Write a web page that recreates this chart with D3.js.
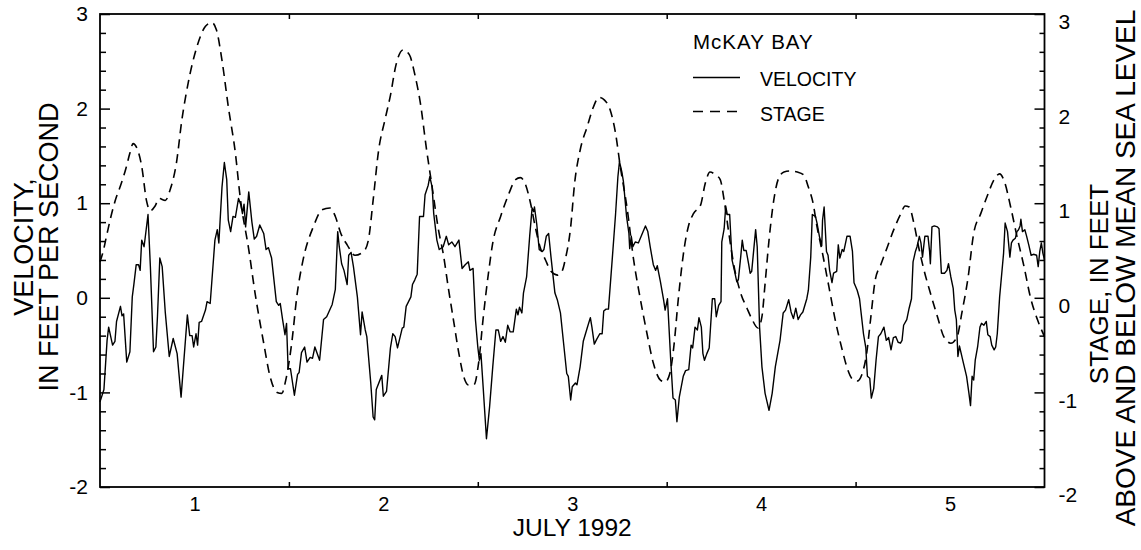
<!DOCTYPE html>
<html>
<head>
<meta charset="utf-8">
<script src="https://cdn.jsdelivr.net/npm/d3@7"></script>
<style>
  body { margin: 0; background: #fff; }
  svg text { font-family: "Liberation Sans", Arial, Helvetica, sans-serif; fill: #000; }
</style>
</head>
<body>
<svg id="chart" width="1141" height="550"></svg>
<script>
// Hours after 00:00 July 1, 1992, and tidal velocity in feet per second.
const velocityReadings = [
  [0,-1.10],[0.5,-0.97],[0.9,-0.45],[1.1,-0.31],[1.6,-0.50],[1.9,-0.46],[2.1,-0.25],[2.6,-0.09],[2.8,-0.19],[3.0,-0.17],
  [3.4,-0.68],[3.8,-0.57],[4.1,0.01],[4.3,0.14],[4.6,0.35],[4.9,0.35],[5.1,0.29],[5.3,0.61],[5.6,0.54],[6.1,0.88],
  [6.4,0.33],[6.8,-0.57],[7.1,-0.52],[7.3,-0.20],[7.6,0.42],[7.9,0.33],[8.3,-0.16],[8.8,-0.62],[9.3,-0.43],[9.8,-0.59],
  [10.3,-1.05],[11.1,-0.18],[11.4,-0.40],[11.7,-0.40],[11.9,-0.52],[12.2,-0.38],[12.4,-0.50],[12.6,-0.26],[12.9,-0.25],[13.4,-0.13],
  [13.6,-0.04],[14.0,-0.06],[14.6,0.61],[14.9,0.72],[15.1,0.58],[15.5,1.17],[15.8,1.43],[16.1,1.25],[16.3,0.82],[16.6,0.70],
  [16.9,0.86],[17.2,0.85],[17.6,1.05],[17.9,0.98],[18.1,0.89],[18.3,0.99],[18.5,0.75],[18.9,1.12],[19.3,0.80],[19.6,0.62],
  [19.9,0.65],[20.3,0.77],[20.8,0.68],[21.1,0.51],[21.4,0.53],[21.8,0.42],[22.4,-0.04],[22.7,-0.08],[22.9,-0.06],[23.2,-0.23],
  [23.5,-0.39],[23.7,-0.27],[23.9,-0.75],[24.2,-0.75],[24.7,-1.03],[25.1,-0.81],[25.3,-0.79],[25.6,-0.58],[26.0,-0.52],[26.3,-0.68],
  [26.7,-0.63],[27.0,-0.64],[27.3,-0.52],[27.9,-0.66],[28.4,-0.23],[28.8,-0.20],[29.5,-0.07],[29.9,0.09],[30.2,0.70],[30.4,0.54],
  [30.7,0.36],[31.0,0.29],[31.4,0.14],[31.6,0.45],[31.9,0.48],[32.2,0.33],[32.7,0.01],[33.1,-0.39],[33.3,-0.15],[33.7,-0.34],
  [33.9,-0.41],[34.4,-0.90],[34.7,-1.26],[34.9,-1.29],[35.1,-0.97],[35.8,-0.82],[36.0,-1.04],[36.4,-0.99],[36.9,-0.53],[37.2,-0.38],
  [37.5,-0.41],[37.8,-0.53],[38.4,-0.32],[38.6,-0.31],[38.9,-0.09],[39.2,-0.04],[39.5,0.01],[39.7,0.14],[40.0,0.19],[40.3,0.25],
  [40.6,0.86],[41.1,0.86],[41.3,1.09],[41.7,1.19],[41.9,1.28],[42.2,1.17],[42.4,0.89],[42.8,0.61],[43.1,0.51],[43.6,0.54],
  [44.0,0.65],[44.3,0.56],[44.7,0.59],[45.1,0.54],[45.6,0.61],[46.0,0.31],[46.4,0.35],[46.8,0.38],[47.0,0.29],[47.4,0.31],
  [47.7,-0.23],[48.0,-0.52],[48.2,-0.66],[48.4,-0.59],[48.7,-0.97],[49.1,-1.49],[49.5,-1.15],[49.9,-0.73],[50.3,-0.34],[50.6,-0.34],
  [50.9,-0.46],[51.2,-0.41],[51.5,-0.47],[51.8,-0.29],[52.1,-0.36],[52.5,-0.36],[52.9,-0.12],[53.1,-0.18],[53.3,-0.10],[53.6,-0.16],
  [53.8,0.05],[54.2,0.22],[54.6,0.66],[54.9,0.95],[55.1,0.91],[55.2,0.96],[55.5,0.77],[55.8,0.51],[56.2,0.49],[56.4,0.51],
  [56.7,0.65],[57.0,0.68],[57.3,0.43],[57.8,0.05],[58.1,-0.02],[58.5,-0.16],[58.9,-0.48],[59.3,-0.80],[59.5,-0.83],[59.8,-1.08],
  [60.0,-0.94],[60.4,-0.90],[60.6,-0.92],[61.0,-0.73],[61.4,-0.46],[61.9,-0.32],[62.3,-0.21],[62.5,-0.31],[62.8,-0.49],[63.1,-0.44],
  [63.5,-0.38],[63.8,-0.38],[64.0,-0.14],[64.3,-0.12],[64.6,-0.12],[65.1,0.43],[65.5,0.88],[65.8,1.28],[66.0,1.44],[66.3,1.33],
  [66.5,1.23],[66.9,0.86],[67.2,0.68],[67.3,0.52],[67.5,0.65],[67.7,0.54],[68.0,0.59],[68.4,0.58],[68.9,0.68],[69.3,0.76],
  [69.6,0.70],[69.9,0.54],[70.3,0.35],[70.6,0.29],[70.8,0.34],[71.2,0.17],[71.6,-0.02],[71.8,-0.13],[72.1,-0.01],[72.5,-0.64],
  [72.8,-1.06],[73.1,-1.08],[73.3,-1.31],[73.6,-1.05],[74.1,-0.83],[74.4,-0.77],[74.8,-0.76],[75.1,-0.50],[75.3,-0.53],[75.6,-0.31],
  [75.9,-0.34],[76.1,-0.21],[76.4,-0.31],[76.6,-0.59],[76.8,-0.66],[77.1,-0.59],[77.4,-0.53],[77.8,-0.01],[78.1,-0.01],[78.3,-0.20],
  [78.6,-0.08],[78.9,-0.04],[79.0,0.59],[79.3,0.73],[79.5,0.97],[79.7,0.88],[80.0,0.88],[80.3,0.40],[80.6,0.29],[80.9,0.17],
  [81.1,0.19],[81.4,0.43],[81.6,0.61],[81.8,0.50],[82.1,0.50],[82.4,0.36],[82.6,0.26],[82.8,0.28],[83.3,0.72],[83.5,0.54],
  [83.8,-0.31],[84.1,-0.73],[84.5,-1.01],[85.0,-1.19],[85.4,-1.01],[85.8,-0.73],[86.4,-0.45],[86.8,-0.16],[87.1,-0.13],[87.5,-0.02],
  [87.8,-0.15],[88.1,-0.22],[88.4,-0.11],[88.7,-0.23],[89.0,-0.18],[89.3,-0.15],[89.8,-0.01],[90.0,0.08],[90.3,0.43],[90.5,0.88],
  [90.9,0.86],[91.1,0.79],[91.4,0.65],[91.7,0.55],[91.8,0.82],[92.0,0.96],[92.3,0.49],[92.5,0.45],[92.7,0.29],[93.0,0.16],
  [93.2,0.26],[93.6,0.28],[93.8,0.56],[94.0,0.42],[94.3,0.51],[94.5,0.49],[94.7,0.57],[94.9,0.65],[95.3,0.65],[95.6,0.49],
  [95.8,0.16],[96.2,0.08],[96.5,-0.01],[96.7,-0.16],[97.0,-0.38],[97.3,-0.53],[97.5,-0.83],[97.8,-0.85],[98.0,-1.06],[98.3,-0.96],
  [98.6,-0.66],[98.9,-0.41],[99.2,-0.38],[99.6,-0.31],[99.9,-0.45],[100.2,-0.42],[100.5,-0.55],[100.8,-0.42],[101.1,-0.41],[101.4,-0.47],
  [101.7,-0.48],[101.9,-0.45],[102.1,-0.29],[102.5,-0.23],[102.8,-0.11],[103.1,-0.01],[103.3,0.38],[103.6,0.49],[103.8,0.54],[104.1,0.65],
  [104.3,0.58],[104.5,0.43],[104.8,0.65],[105.0,0.65],[105.2,0.65],[105.4,0.49],[105.5,0.36],[105.7,0.75],[106.0,0.76],[106.4,0.75],
  [106.6,0.73],[106.9,0.26],[107.3,0.26],[107.6,0.29],[107.8,0.36],[108.1,0.22],[108.4,0.10],[108.6,-0.13],[108.8,-0.23],[109.0,-0.62],
  [109.2,-0.51],[109.5,-0.62],[109.7,-0.69],[110.1,-0.83],[110.4,-1.01],[110.6,-1.14],[110.8,-0.83],[111.0,-0.87],[111.2,-0.66],[111.5,-0.52],
  [111.8,-0.31],[112.0,-0.27],[112.3,-0.29],[112.6,-0.25],[112.8,-0.39],[113.1,-0.41],[113.3,-0.50],[113.6,-0.55],[113.8,-0.52],[114.0,-0.38],
  [114.3,0.01],[114.8,0.47],[115.0,0.79],[115.3,0.70],[115.6,0.43],[115.8,0.58],[116.0,0.61],[116.3,0.63],[116.5,0.70],[116.7,0.72],
  [116.9,0.76],[117.0,0.83],[117.2,0.70],[117.5,0.72],[117.7,0.66],[118.0,0.56],[118.3,0.45],[118.6,0.46],[119.0,0.45],[119.2,0.33],
  [119.4,0.49],[119.6,0.58],[119.8,0.47],[120.0,0.40]
];

// Hours after 00:00 July 1, 1992, and stage in feet relative to mean sea level.
const stageReadings = [
  [0,0.38],[0.4,0.49],[0.9,0.68],[1.7,0.96],[2.1,1.07],[2.5,1.16],[3.3,1.37],[3.8,1.53],[4.2,1.63],[4.7,1.58],
  [5.3,1.39],[5.9,1.03],[6.4,0.92],[7.0,0.97],[7.5,1.05],[8.3,1.03],[8.9,1.14],[9.7,1.42],[10.4,1.88],[11.2,2.27],
  [12.3,2.65],[13.4,2.87],[14.2,2.91],[14.8,2.83],[15.5,2.51],[16.3,2.02],[17.2,1.53],[17.8,1.07],[18.9,0.51],[19.7,0.05],
  [20.8,-0.48],[21.6,-0.83],[22.5,-1.00],[23.1,-1.01],[23.6,-0.87],[24.4,-0.45],[25.0,0.01],[25.8,0.40],[27.1,0.75],[28.2,0.93],
  [29.2,0.95],[29.9,0.86],[30.6,0.68],[31.4,0.56],[32.4,0.45],[33.5,0.49],[34.1,0.61],[34.7,1.03],[35.4,1.56],[36.2,1.88],
  [36.9,2.14],[37.6,2.46],[38.5,2.62],[39.3,2.57],[40.0,2.36],[40.7,2.06],[41.5,1.56],[42.2,1.17],[43.0,0.72],[43.6,0.47],
  [44.3,0.08],[44.9,-0.23],[45.6,-0.59],[46.2,-0.83],[46.8,-0.92],[47.5,-0.92],[48.1,-0.69],[48.7,-0.20],[49.4,0.29],[49.9,0.58],
  [50.9,0.86],[51.9,1.09],[52.8,1.25],[53.4,1.27],[54.0,1.21],[54.7,1.00],[55.3,0.75],[55.9,0.54],[56.6,0.40],[57.3,0.28],
  [58.1,0.24],[58.7,0.28],[59.1,0.40],[59.8,0.75],[60.3,1.21],[61.0,1.56],[61.9,1.81],[62.7,2.02],[63.4,2.12],[64.1,2.09],
  [64.8,1.99],[65.5,1.74],[66.1,1.39],[67.0,0.93],[67.8,0.40],[68.6,0.01],[69.5,-0.38],[70.3,-0.69],[71.2,-0.87],[71.8,-0.89],
  [72.4,-0.80],[72.9,-0.52],[73.5,0.01],[74.2,0.51],[74.8,0.77],[75.4,0.89],[76.3,0.98],[76.9,1.21],[77.5,1.33],[78.2,1.30],
  [78.8,1.25],[79.3,1.03],[79.9,0.68],[80.5,0.36],[81.4,0.05],[82.2,-0.11],[82.8,-0.22],[83.6,-0.32],[84.1,-0.20],[84.5,0.15],
  [85.0,0.61],[85.6,1.03],[86.2,1.26],[86.9,1.33],[87.7,1.34],[88.6,1.33],[89.4,1.30],[90.0,1.17],[90.6,1.00],[91.1,0.75],
  [91.7,0.51],[92.6,0.12],[93.4,-0.23],[94.3,-0.55],[95.0,-0.76],[95.6,-0.86],[96.2,-0.88],[96.8,-0.81],[97.4,-0.59],[97.9,-0.23],
  [98.5,0.19],[99.2,0.35],[100.0,0.53],[100.8,0.71],[101.7,0.88],[102.3,0.97],[102.8,0.96],[103.4,0.79],[104.0,0.54],[104.7,0.29],
  [105.5,0.05],[106.4,-0.20],[107.2,-0.41],[108.1,-0.48],[108.9,-0.41],[109.5,-0.16],[110.3,0.22],[111.0,0.68],[111.9,0.89],[112.7,1.07],
  [113.6,1.25],[114.3,1.31],[114.9,1.23],[115.7,0.96],[116.5,0.65],[117.4,0.33],[118.2,0.01],[119.1,-0.23],[120.0,-0.41]
];

// Day boundaries (midnight) get ticks; day numbers sit at noon of each day.
const midnightHours = [24, 48, 72, 96];
const dayLabelHours = [12, 36, 60, 84, 108];
const dayLabels = ["1", "2", "3", "4", "5"];

// Vertical scales: labelled units plus fifth-unit minor ticks.
const velocityTicks = [-2, -1, 0, 1, 2, 3];
const stageTicks = [-2, -1, 0, 1, 2, 3];
const minorTicks = d3.range(-2, 3.001, 0.2).map(v => Math.round(v * 10) / 10)
  .filter(v => Math.abs(v - Math.round(v)) > 1e-6);

const legendTitle = "McKAY BAY";
const seriesNames = ["VELOCITY", "STAGE"];

const svg = d3.select("#chart");
const plot = { left: 100, right: 1044.5, top: 14, bottom: 487 };

const x = d3.scaleLinear().domain([0, 120]).range([plot.left, plot.right]);
const yVel = d3.scaleLinear().domain([-2, 3]).range([plot.bottom, plot.top]);
const yStage = d3.scaleLinear().domain([-2, 3]).range([plot.bottom, plot.top]);

// Plain hyphen-minus for negative tick labels
const intLabel = d => String(d);

// Velocity trace (solid)
const velocityLine = d3.line()
  .x(d => x(d[0]))
  .y(d => yVel(d[1]));
svg.append("path")
  .datum(velocityReadings)
  .attr("d", velocityLine)
  .attr("fill", "none")
  .attr("stroke", "#000")
  .attr("stroke-width", 1.4)
  .attr("stroke-linejoin", "round");

// Stage trace (dashed, smooth)
const stageLine = d3.line()
  .curve(d3.curveMonotoneX)
  .x(d => x(d[0]))
  .y(d => yStage(d[1]));
svg.append("path")
  .datum(stageReadings)
  .attr("d", stageLine)
  .attr("fill", "none")
  .attr("stroke", "#000")
  .attr("stroke-width", 1.6)
  .attr("stroke-dasharray", "9,6");

// Frame
svg.append("rect")
  .attr("x", plot.left).attr("y", plot.top)
  .attr("width", plot.right - plot.left).attr("height", plot.bottom - plot.top)
  .attr("fill", "none").attr("stroke", "#000").attr("stroke-width", 1.8);

function styleAxis(g) {
  g.select(".domain").remove();
  g.selectAll(".tick line").attr("stroke", "#000").attr("stroke-width", 1.5);
  g.selectAll("text").attr("font-size", "21px").attr("font-family", null);
}

// Left axis (velocity)
svg.append("g")
  .attr("transform", `translate(${plot.left},0)`)
  .call(d3.axisLeft(yVel).tickValues(velocityTicks).tickSize(-10).tickPadding(12).tickFormat(intLabel))
  .call(styleAxis);
svg.append("g")
  .attr("transform", `translate(${plot.left},0)`)
  .call(d3.axisLeft(yVel).tickValues(minorTicks).tickSize(-6).tickFormat(""))
  .call(styleAxis);

// Right axis (stage)
const rightAxis = svg.append("g")
  .attr("transform", `translate(${plot.right},0)`)
  .call(d3.axisRight(yStage).tickValues(stageTicks).tickSize(-10).tickPadding(14).tickFormat(intLabel))
  .call(styleAxis);
rightAxis.selectAll("text").attr("y", 8);
svg.append("g")
  .attr("transform", `translate(${plot.right},0)`)
  .call(d3.axisRight(yStage).tickValues(minorTicks).tickSize(-5).tickFormat(""))
  .call(styleAxis);

// Day boundary ticks, bottom and top
svg.append("g")
  .attr("transform", `translate(0,${plot.bottom})`)
  .call(d3.axisBottom(x).tickValues(midnightHours).tickSize(-5).tickFormat(""))
  .call(styleAxis);
svg.append("g")
  .attr("transform", `translate(0,${plot.top})`)
  .call(d3.axisTop(x).tickValues(midnightHours).tickSize(-5).tickFormat(""))
  .call(styleAxis);

// Day numbers
const dayAxis = svg.append("g")
  .attr("transform", `translate(0,${plot.bottom})`)
  .call(d3.axisBottom(x).tickValues(dayLabelHours).tickSize(0).tickPadding(10)
    .tickFormat((d, i) => dayLabels[i]))
  .call(styleAxis);
dayAxis.selectAll("text").attr("font-size", "20px");

// Axis titles
svg.append("text")
  .attr("x", (plot.left + plot.right) / 2).attr("y", 536)
  .attr("text-anchor", "middle").attr("font-size", "24.5px")
  .text("JULY 1992");

const leftTitle = [
  { text: "VELOCITY,", x: 33 },
  { text: "IN FEET PER SECOND", x: 58 }
];
leftTitle.forEach(t => {
  svg.append("text")
    .attr("transform", `translate(${t.x},247) rotate(-90)`)
    .attr("text-anchor", "middle").attr("font-size", "27px")
    .text(t.text);
});

const rightTitle = [
  { text: "STAGE, IN FEET", x: 1108, y: 284, size: 26 },
  { text: "ABOVE AND BELOW MEAN SEA LEVEL", x: 1135, y: 268, size: 28 }
];
rightTitle.forEach(t => {
  svg.append("text")
    .attr("transform", `translate(${t.x},${t.y}) rotate(-90)`)
    .attr("text-anchor", "middle").attr("font-size", `${t.size}px`)
    .text(t.text);
});

// Legend
const legend = svg.append("g").attr("transform", "translate(693,0)");
legend.append("text").attr("x", 0).attr("y", 49).attr("font-size", "20.5px")
  .attr("letter-spacing", "1px").text(legendTitle);
legend.append("line").attr("x1", 0).attr("x2", 47).attr("y1", 77.5).attr("y2", 77.5)
  .attr("stroke", "#000").attr("stroke-width", 1.4);
legend.append("text").attr("x", 67).attr("y", 85.5).attr("font-size", "19.5px").text(seriesNames[0]);
legend.append("line").attr("x1", 0).attr("x2", 45).attr("y1", 111.5).attr("y2", 111.5)
  .attr("stroke", "#000").attr("stroke-width", 1.6).attr("stroke-dasharray", "10,7");
legend.append("text").attr("x", 67).attr("y", 120.5).attr("font-size", "19.5px").text(seriesNames[1]);
</script>
</body>
</html>
